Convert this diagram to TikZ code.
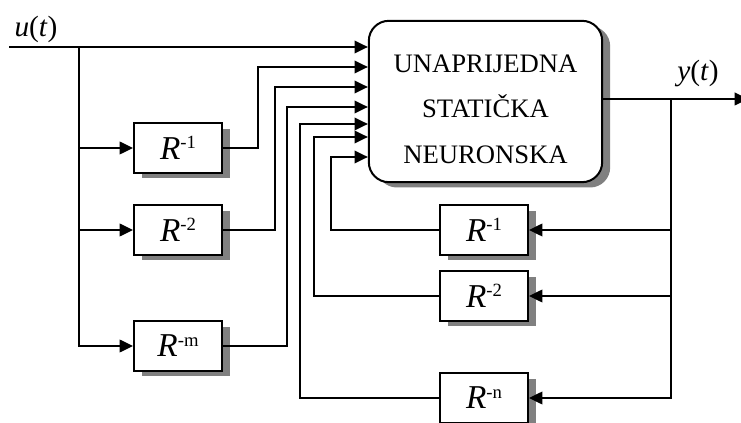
\documentclass[tikz,border=0pt]{standalone}
\usepackage{fontspec}
\setmainfont{Liberation Serif}
\usetikzlibrary{arrows.meta,shadows}

\newcommand{\rdel}[1]{\textit{R}\raisebox{8pt}{\fontsize{14}{14}\selectfont -#1}}

\begin{document}
\begin{tikzpicture}[x=0.75pt, y=-0.75pt, line width=1.1pt,
    >={Triangle[length=10pt,width=9.5pt]},
    shade/.style={drop shadow={shadow xshift=6pt, shadow yshift=-4pt, fill=gray, opacity=1}},
    delay/.style={draw, line width=1.5pt, fill=white, shade, minimum width=66pt,
        minimum height=37pt, inner sep=0pt, font=\fontsize{25}{26}\selectfont},
    signal/.style={font=\fontsize{22}{24}\selectfont}]
    \useasboundingbox (0,0) rectangle (741,423);

    % Network block
    \node[draw, line width=1.5pt, fill=white, shade, rounded corners=15pt,
        minimum width=175pt, minimum height=121pt] (net) at (485.5,101.5) {};
    \node[align=center, font=\fontsize{20}{34}\selectfont] (nettext) at (485.5,109)
        {UNAPRIJEDNA\\STATIČKA\\NEURONSKA};

    % Input delays
    \node[delay] (l1) at (178,148) {\rdel{1}};
    \node[delay] (l2) at (178,230) {\rdel{2}};
    \node[delay] (l3) at (178,346) {\rdel{m}};

    % Output delays
    \node[delay] (r1) at (484,230) {\rdel{1}};
    \node[delay] (r2) at (484,296) {\rdel{2}};
    \node[delay] (r3) at (484,398) {\rdel{n}};

    % Signals
    \node[signal] (u) at (36,29) {\textit{u}(\textit{t})};
    \node[signal] (y) at (698,73) {\textit{y}(\textit{t})};
    \coordinate (ustart) at (9,47);
    \coordinate (ub) at (79,47);
    \coordinate (yb) at (671,99);
    \coordinate (yend) at (748,99);

    % Input side
    \draw[->] (ustart) -- (net.west |- ustart);
    \draw[->] (ub) |- (l1.west);
    \draw[->] (ub) |- (l2.west);
    \draw[->] (ub) |- (l3.west);
    \foreach \src/\x/\y in {l1.east/258/67, l2.east/275/87, l3.east/287/107,
        r3.west/300/124, r2.west/314/137, r1.west/331/157}
        \draw[->] (\src) -| (\x,\y) -- (net.west |- 0,\y);

    % Output and feedback
    \draw[->] (net.east |- yb) -- (yend);
    \draw[->] (yb) |- (r1.east);
    \draw[->] (yb) |- (r2.east);
    \draw[->] (yb) |- (r3.east);
\end{tikzpicture}
\end{document}
